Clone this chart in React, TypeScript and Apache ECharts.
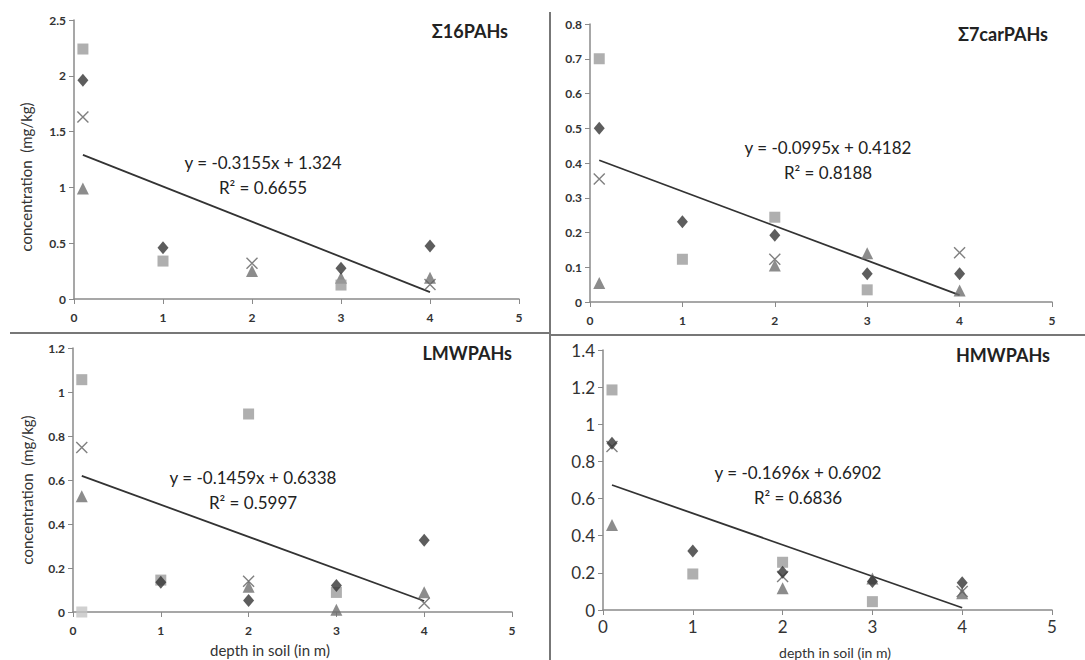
import React, { useEffect, useRef } from "react";
import * as echarts from "echarts";

const depths = [0.1, 1, 2, 3, 4];

// Σ16PAHs
const p16Diamond = [1.96, 0.46, null, 0.275, 0.475];
const p16Square = [2.24, 0.34, null, 0.125, null];
const p16Triangle = [0.99, null, 0.25, 0.19, 0.19];
const p16Cross = [1.63, null, 0.32, null, 0.13];
const p16Trend = [1.292, 0.062];

// Σ7carPAHs
const p7Diamond = [0.5, 0.231, 0.192, 0.081, 0.081];
const p7Square = [0.7, 0.123, 0.244, 0.035, null];
const p7Triangle = [0.055, null, 0.105, 0.14, 0.033];
const p7Cross = [0.354, null, 0.123, null, 0.142];
const p7Trend = [0.408, 0.02];

// LMWPAHs
const lmwDiamond = [null, 0.135, 0.052, 0.12, 0.326];
const lmwSquare = [1.056, 0.145, 0.9, 0.089, null];
const lmwTriangle = [0.526, null, 0.115, 0.01, 0.09];
const lmwCross = [0.748, null, 0.14, null, 0.04];
const lmwLight = [0, null, null, null, null];
const lmwTrend = [0.619, 0.05];

// HMWPAHs
const hmwDiamond = [0.898, 0.318, 0.203, 0.153, 0.147];
const hmwSquare = [1.185, 0.194, 0.257, 0.045, null];
const hmwTriangle = [0.458, null, 0.117, 0.17, 0.09];
const hmwCross = [0.88, null, 0.18, null, 0.1];
const hmwTrend = [0.673, 0.012];

const trendX = [0.1, 4];

const titles = ["Σ16PAHs", "Σ7carPAHs", "LMWPAHs", "HMWPAHs"];
const equations = [
  "y = -0.3155x + 1.324",
  "y = -0.0995x + 0.4182",
  "y = -0.1459x + 0.6338",
  "y = -0.1696x + 0.6902",
];
const r2 = ["R² = 0.6655", "R² = 0.8188", "R² = 0.5997", "R² = 0.6836"];
const yMax = [2.5, 0.8, 1.2, 1.4];
const yInterval = [0.5, 0.1, 0.2, 0.2];
const yName = "concentration  (mg/kg)";
const xName = "depth in soil (in m)";

const FONT = "Lato, 'Open Sans', sans-serif";

function pts(vals: (number | null)[]) {
  const out: [number, number][] = [];
  vals.forEach((v, i) => {
    if (v !== null) out.push([depths[i], v]);
  });
  return out;
}

const CROSS = "path://M0,0 L10,10 M10,0 L0,10";

export default function App() {
  const ref = useRef<HTMLDivElement>(null);
  useEffect(() => {
    if (!ref.current) return;
    const chart = echarts.init(ref.current, undefined, { renderer: "svg" });
    const grids = [
      { left: 74, top: 20, width: 445, height: 279 },
      { left: 590, top: 24, width: 462, height: 278 },
      { left: 73, top: 348, width: 439, height: 264 },
      { left: 603, top: 350, width: 449, height: 260 },
    ];
    const panels = [
      [p16Diamond, p16Square, p16Triangle, p16Cross, p16Trend],
      [p7Diamond, p7Square, p7Triangle, p7Cross, p7Trend],
      [lmwDiamond, lmwSquare, lmwTriangle, lmwCross, lmwTrend],
      [hmwDiamond, hmwSquare, hmwTriangle, hmwCross, hmwTrend],
    ] as (number | null)[][][];

    const xAxis: any[] = [];
    const yAxis: any[] = [];
    const series: any[] = [];
    grids.forEach((g, i) => {
      const big = i === 3;
      const axisLine = { show: true, lineStyle: { color: "#8a8a8a", width: 1.5 } };
      xAxis.push({
        type: "value",
        gridIndex: i,
        min: 0,
        max: 5,
        interval: 1,
        splitLine: { show: false },
        axisLine: { ...axisLine, onZero: false },
        axisTick: { show: true, length: 5, lineStyle: { color: "#8a8a8a" } },
        axisLabel: {
          color: "#333",
          fontFamily: FONT,
          fontSize: big ? 17 : 12,
          fontWeight: big ? "normal" : "bold",
          margin: big ? 8 : 12,
        },
      });
      yAxis.push({
        type: "value",
        gridIndex: i,
        min: 0,
        max: yMax[i],
        interval: yInterval[i],
        splitLine: { show: false },
        axisLine,
        axisTick: { show: true, length: 5, lineStyle: { color: "#8a8a8a" } },
        axisLabel: {
          color: "#333",
          fontFamily: FONT,
          fontSize: big ? 17 : 12,
          fontWeight: big ? "normal" : "bold",
          margin: 8,
        },
      });
      const [dia, sq, tri, cr, tr] = panels[i];
      series.push({
        type: "line",
        xAxisIndex: i,
        yAxisIndex: i,
        data: trendX.map((x, k) => [x, tr[k]]),
        symbol: "none",
        lineStyle: { color: "#333", width: 1.8 },
        z: 1,
      });
      series.push({
        type: "scatter",
        xAxisIndex: i,
        yAxisIndex: i,
        data: pts(tri),
        symbol: "triangle",
        symbolSize: 12,
        itemStyle: { color: "#6f6f6f" },
        z: 2,
      });
      series.push({
        type: "scatter",
        xAxisIndex: i,
        yAxisIndex: i,
        data: pts(sq),
        symbol: "rect",
        symbolSize: 11,
        itemStyle: { color: "#9b9b9b" },
        z: 3,
      });
      if (i === 2) {
        series.push({
          type: "scatter",
          xAxisIndex: i,
          yAxisIndex: i,
          data: pts(lmwLight),
          symbol: "rect",
          symbolSize: 11,
          itemStyle: { color: "#c4c4c4" },
          z: 3,
        });
      }
      series.push({
        type: "scatter",
        xAxisIndex: i,
        yAxisIndex: i,
        data: pts(cr),
        symbol: CROSS,
        symbolSize: 11,
        itemStyle: { color: "none", borderColor: "#606060", borderWidth: 1.4 },
        z: 4,
      });
      series.push({
        type: "scatter",
        xAxisIndex: i,
        yAxisIndex: i,
        data: pts(dia),
        symbol: "diamond",
        symbolSize: [11, 13],
        itemStyle: { color: "#353535" },
        z: 5,
      });
    });

    const titlePos = [
      [508, 33],
      [1048, 36],
      [512, 355],
      [1050, 357],
    ];
    const eqPos = [
      [263, 162, 187],
      [828, 147, 172],
      [253, 477, 502],
      [798, 472, 497],
    ];
    const graphics: any[] = [];
    titles.forEach((t, i) => {
      graphics.push({
        type: "text",
        right: 1085 - titlePos[i][0],
        top: titlePos[i][1] - 11,
        style: { text: t, font: `bold 18px ${FONT}`, fill: "#222" },
      });
      graphics.push({
        type: "text",
        x: eqPos[i][0],
        y: eqPos[i][1],
        style: {
          text: equations[i],
          font: `17px ${FONT}`,
          fill: "#222",
          align: "center",
          verticalAlign: "middle",
        },
      });
      graphics.push({
        type: "text",
        x: eqPos[i][0],
        y: eqPos[i][2],
        style: {
          text: r2[i],
          font: `17px ${FONT}`,
          fill: "#222",
          align: "center",
          verticalAlign: "middle",
        },
      });
    });
    // y-axis names
    [
      [26, 177],
      [27, 490],
    ].forEach(([x, y]) => {
      graphics.push({
        type: "text",
        x,
        y,
        rotation: Math.PI / 2,
        style: {
          text: yName,
          font: `15px ${FONT}`,
          fill: "#333",
          align: "center",
          verticalAlign: "middle",
        },
      });
    });
    // x-axis names
    [
      [270, 650, 15],
      [835, 652, 14],
    ].forEach(([x, y, fs]) => {
      graphics.push({
        type: "text",
        x,
        y,
        style: {
          text: xName,
          font: `${fs}px ${FONT}`,
          fill: "#333",
          align: "center",
          verticalAlign: "middle",
        },
      });
    });
    graphics.push(
      { type: "line", shape: { x1: 550, y1: 12, x2: 550, y2: 660 }, style: { stroke: "#777", lineWidth: 2 } },
      { type: "line", shape: { x1: 10, y1: 333, x2: 550, y2: 333 }, style: { stroke: "#777", lineWidth: 2 } },
      { type: "line", shape: { x1: 550, y1: 335, x2: 1085, y2: 335 }, style: { stroke: "#777", lineWidth: 2 } }
    );

    chart.setOption({
      animation: false,
      backgroundColor: "#fff",
      grid: grids,
      xAxis,
      yAxis,
      series,
      graphic: graphics,
    });
    return () => chart.dispose();
  }, []);
  return (
    <div
      ref={ref}
      style={{ position: "fixed", left: 0, top: 0, width: 1085, height: 660 }}
    />
  );
}
